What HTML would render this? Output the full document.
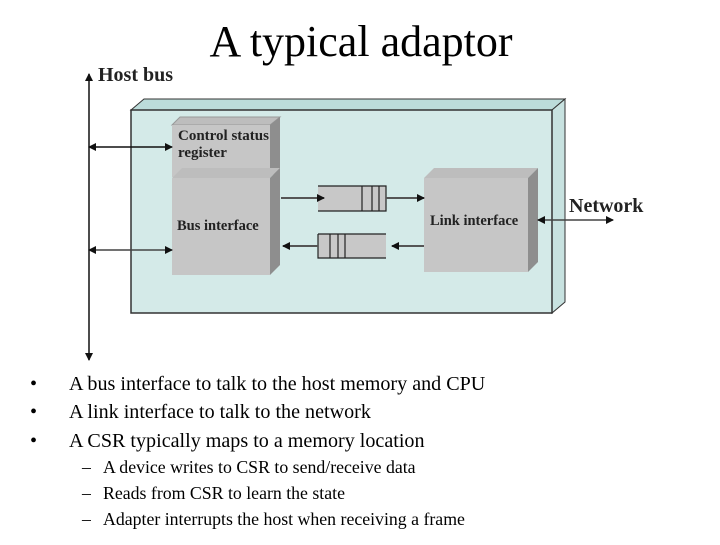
<!DOCTYPE html>
<html><head><meta charset="utf-8"><style>
body{margin:0;background:#fff}
svg text{font-family:"Liberation Serif",serif}
</style></head><body>
<svg width="720" height="540" viewBox="0 0 720 540" xmlns="http://www.w3.org/2000/svg">
<defs>
<marker id="a" markerWidth="8" markerHeight="8" refX="7" refY="4" orient="auto-start-reverse" markerUnits="userSpaceOnUse"><path d="M0,0 L8,4 L0,8 z" fill="#111"/></marker>
</defs>
<text x="361" y="56" font-size="44" text-anchor="middle">A typical adaptor</text>
<polygon points="131,110 144,99 565,99 552,110" fill="#bcdcda" stroke="#333"/>
<polygon points="552,110 565,99 565,302 552,313" fill="#c8e2e0" stroke="#333"/>
<rect x="131" y="110" width="421" height="203" fill="#d4eae8" stroke="#333" stroke-width="1.5"/>
<line x1="89" y1="74" x2="89" y2="360" stroke="#111" stroke-width="1.5" marker-start="url(#a)" marker-end="url(#a)"/>
<text x="98" y="81" font-size="20" font-weight="bold" fill="#222">Host bus</text>
<polygon points="172,125 180,117 280,117 270,125" fill="#bdbdbd" stroke="#999"/>
<polygon points="270,125 280,117 280,170 270,177" fill="#8e8e8e"/>
<rect x="172" y="125" width="98" height="52" fill="#c6c6c6"/>
<text x="178" y="140" font-size="15" font-weight="bold" fill="#222">Control status</text>
<text x="178" y="157" font-size="15" font-weight="bold" fill="#222">register</text>
<polygon points="172,178 182,168 280,168 270,178" fill="#bdbdbd"/>
<polygon points="270,178 280,168 280,265 270,275" fill="#8e8e8e"/>
<rect x="172" y="178" width="98" height="97" fill="#c6c6c6"/>
<text x="177" y="230" font-size="14.5" font-weight="bold" fill="#222">Bus interface</text>
<polygon points="424,178 434,168 538,168 528,178" fill="#bdbdbd"/>
<polygon points="528,178 538,168 538,262 528,272" fill="#8e8e8e"/>
<rect x="424" y="178" width="104" height="94" fill="#c6c6c6"/>
<text x="430" y="225" font-size="14.5" font-weight="bold" fill="#222">Link interface</text>
<line x1="89" y1="147" x2="172" y2="147" stroke="#111" stroke-width="1.5" marker-start="url(#a)" marker-end="url(#a)"/>
<line x1="89" y1="250" x2="172" y2="250" stroke="#444" stroke-width="1.5" marker-start="url(#a)" marker-end="url(#a)"/>
<line x1="538" y1="220" x2="613" y2="220" stroke="#444" stroke-width="1.5" marker-start="url(#a)" marker-end="url(#a)"/>
<text x="569" y="212" font-size="20" font-weight="bold" fill="#222">Network</text>
<rect x="318" y="186" width="68" height="25" fill="#c8c8c8"/>
<path d="M318,186 H386 V211 H318 M362,186 V211 M372,186 V211 M379,186 V211" fill="none" stroke="#222" stroke-width="1.2"/>
<rect x="318" y="234" width="68" height="24" fill="#c8c8c8"/>
<path d="M318,234 H386 M318,234 V258 H386 M330,234 V258 M338,234 V258 M345,234 V258" fill="none" stroke="#222" stroke-width="1.2"/>
<line x1="281" y1="198" x2="324" y2="198" stroke="#555" stroke-width="2" marker-end="url(#a)"/>
<line x1="386" y1="198" x2="424" y2="198" stroke="#555" stroke-width="2" marker-end="url(#a)"/>
<line x1="424" y1="246" x2="392" y2="246" stroke="#555" stroke-width="2" marker-end="url(#a)"/>
<line x1="318" y1="246" x2="283" y2="246" stroke="#555" stroke-width="2" marker-end="url(#a)"/>
<g font-size="20.1">
<text x="30" y="390">•</text><text x="69" y="390">A bus interface to talk to the host memory and CPU</text>
<text x="30" y="418">•</text><text x="69" y="418">A link interface to talk to the network</text>
<text x="30" y="447">•</text><text x="69" y="447">A CSR typically maps to a memory location</text>
</g>
<g font-size="17.8">
<text x="82" y="473">–</text><text x="103" y="473">A device writes to CSR to send/receive data</text>
<text x="82" y="499">–</text><text x="103" y="499">Reads from CSR to learn the state</text>
<text x="82" y="525">–</text><text x="103" y="525">Adapter interrupts the host when receiving a frame</text>
</g>
</svg>
</body></html>
